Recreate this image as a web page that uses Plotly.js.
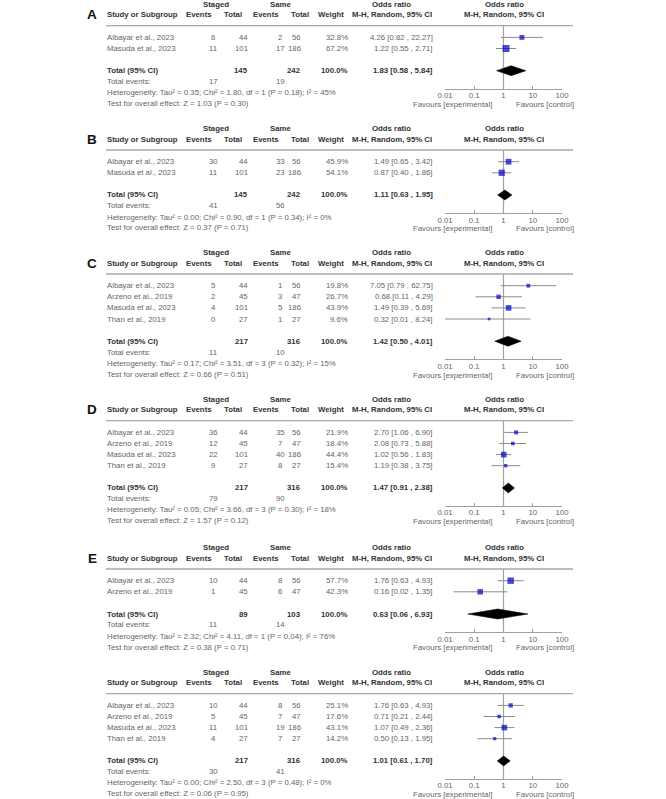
<!DOCTYPE html>
<html><head><meta charset="utf-8">
<script src="https://cdn.plot.ly/plotly-3.0.1.min.js"></script>
<style>html,body{margin:0;padding:0;background:#fff}</style>
</head><body><div id="chart" style="width:666px;height:799px"></div>
<script>
// ---------------- DATA ----------------
const panelLetters = ['A','B','C','D','E',''];

const studiesA = ['Albayar et al., 2023','Masuda et al., 2023'];
const stagedEvA = [6, 11], stagedNA = [44, 101], sameEvA = [2, 17], sameNA = [56, 186];
const weightA = [32.8, 67.2], orA = [4.26, 1.22], loA = [0.82, 0.55], hiA = [22.27, 2.71];

const studiesB = ['Albayar et al., 2023','Masuda et al., 2023'];
const stagedEvB = [30, 11], stagedNB = [44, 101], sameEvB = [33, 23], sameNB = [56, 186];
const weightB = [45.9, 54.1], orB = [1.49, 0.87], loB = [0.65, 0.40], hiB = [3.42, 1.86];

const studiesC = ['Albayar et al., 2023','Arzeno et al., 2019','Masuda et al., 2023','Than et al., 2019'];
const stagedEvC = [5, 2, 4, 0], stagedNC = [44, 45, 101, 27], sameEvC = [1, 3, 5, 1], sameNC = [56, 47, 186, 27];
const weightC = [19.8, 26.7, 43.9, 9.6], orC = [7.05, 0.68, 1.49, 0.32], loC = [0.79, 0.11, 0.39, 0.01], hiC = [62.75, 4.29, 5.69, 8.24];

const studiesD = ['Albayar et al., 2023','Arzeno et al., 2019','Masuda et al., 2023','Than et al., 2019'];
const stagedEvD = [36, 12, 22, 9], stagedND = [44, 45, 101, 27], sameEvD = [35, 7, 40, 8], sameND = [56, 47, 186, 27];
const weightD = [21.9, 18.4, 44.4, 15.4], orD = [2.70, 2.08, 1.02, 1.19], loD = [1.06, 0.73, 0.56, 0.38], hiD = [6.90, 5.88, 1.83, 3.75];

const studiesE = ['Albayar et al., 2023','Arzeno et al., 2019'];
const stagedEvE = [10, 1], stagedNE = [44, 45], sameEvE = [8, 6], sameNE = [56, 47];
const weightE = [57.7, 42.3], orE = [1.76, 0.16], loE = [0.63, 0.02], hiE = [4.93, 1.35];

const studiesF = ['Albayar et al., 2023','Arzeno et al., 2019','Masuda et al., 2023','Than et al., 2019'];
const stagedEvF = [10, 5, 11, 4], stagedNF = [44, 45, 101, 27], sameEvF = [8, 7, 19, 7], sameNF = [56, 47, 186, 27];
const weightF = [25.1, 17.6, 43.1, 14.2], orF = [1.76, 0.71, 1.07, 0.50], loF = [0.63, 0.21, 0.49, 0.13], hiF = [4.93, 2.44, 2.36, 1.95];

const totalOR = [1.83, 1.11, 1.42, 1.47, 0.63, 1.01];
const totalLo = [0.58, 0.63, 0.50, 0.91, 0.06, 0.61];
const totalHi = [5.84, 1.95, 4.01, 2.38, 6.93, 1.70];
const totalStagedN = [145, 145, 217, 217, 89, 217];
const totalSameN = [242, 242, 316, 316, 103, 316];
const totalWeight = [100.0, 100.0, 100.0, 100.0, 100.0, 100.0];
const totalStagedEv = [17, 41, 11, 79, 11, 30];
const totalSameEv = [19, 56, 10, 90, 14, 41];
const tau2 = ['0.35','0.00','0.17','0.05','2.32','0.00'];
const chi2 = ['1.80','0.90','3.51','3.66','4.11','2.50'];
const dfHet = [1, 1, 3, 3, 1, 3];
const pHet = ['0.18','0.34','0.32','0.30','0.04','0.48'];
const i2 = [45, 0, 15, 18, 76, 0];
const zVal = ['1.03','0.37','0.66','1.57','0.38','0.06'];
const pZ = ['0.30','0.71','0.51','0.12','0.71','0.95'];

const tickVals = [0.01, 0.1, 1, 10, 100];
const tickText = ['0.01','0.1','1','10','100'];

// ---------------- LAYOUT HELPERS ----------------
const W = 666, H = 799;
const FONT = 'Liberation Sans, Arial, sans-serif';
const FS = 7.8;
const C_TXT = '#666666', C_HEAD = '#333333';
const lineY = [25.7, 150, 274, 420.7, 569, 693.7];
const ROW0 = 11.7, ROW = 11.1, AXGAP = 18.2;
const COL = {study:106, sEv:213, sN:248.5, mEv:280, mN:302, wt:349, ci:434, or1:392, or2:504,
             hStaged:216, hSame:280, hsEv:199, hsN:232.7, hmEv:265.5, hmN:300, hWt:331, lineR:573,
             fav1:493, fav2:515, letter:92};
const AX_L = 445, AX_R = 562;

const panels = [
  {st:studiesA, sEv:stagedEvA, sN:stagedNA, mEv:sameEvA, mN:sameNA, w:weightA, or:orA, lo:loA, hi:hiA},
  {st:studiesB, sEv:stagedEvB, sN:stagedNB, mEv:sameEvB, mN:sameNB, w:weightB, or:orB, lo:loB, hi:hiB},
  {st:studiesC, sEv:stagedEvC, sN:stagedNC, mEv:sameEvC, mN:sameNC, w:weightC, or:orC, lo:loC, hi:hiC},
  {st:studiesD, sEv:stagedEvD, sN:stagedND, mEv:sameEvD, mN:sameND, w:weightD, or:orD, lo:loD, hi:hiD},
  {st:studiesE, sEv:stagedEvE, sN:stagedNE, mEv:sameEvE, mN:sameNE, w:weightE, or:orE, lo:loE, hi:hiE},
  {st:studiesF, sEv:stagedEvF, sN:stagedNF, mEv:sameEvF, mN:sameNF, w:weightF, or:orF, lo:loF, hi:hiF}
];

const fx = p => p / W;
const fy = p => 1 - p / H;
const ciTxt = (o, l, h) => o.toFixed(2) + ' [' + l.toFixed(2) + ' , ' + h.toFixed(2) + ']';

const annotations = [], shapes = [], traces = [];
const layout = {
  width: W, height: H, margin: {l:0, r:0, t:0, b:0},
  paper_bgcolor: '#fff', plot_bgcolor: 'rgba(0,0,0,0)',
  showlegend: false, font: {family: FONT, size: FS, color: C_TXT},
  annotations, shapes
};

function ann(text, x, y, xanchor, opts) {
  opts = opts || {};
  annotations.push({
    text: opts.bold ? '<b>' + text + '</b>' : text,
    x: fx(x), y: fy(y), xref: 'paper', yref: 'paper',
    xanchor: xanchor, yanchor: 'middle', showarrow: false, borderpad: 0,
    font: {family: FONT, size: opts.size || FS, color: opts.color || (opts.bold ? C_HEAD : C_TXT)}
  });
}

panels.forEach((P, p) => {
  const k = p + 1;
  const n = P.st.length;
  const L = lineY[p];
  const rowPx = r => L + ROW0 + ROW * r;
  const totR = n + 1;
  const axisPx = rowPx(totR) + AXGAP;
  const yTop = L - 21.6, yStudy = L - 10.9;

  // headers
  if (panelLetters[p]) ann(panelLetters[p], COL.letter, yStudy, 'center', {bold:true, size:13.5, color:'#111'});
  ann('Staged', COL.hStaged, yTop, 'center', {bold:true});
  ann('Same', COL.hSame, yTop, 'center', {bold:true});
  ann('Odds ratio', COL.or1, yTop, 'center', {bold:true});
  ann('Odds ratio', COL.or2, yTop, 'center', {bold:true});
  ann('Study or Subgroup', COL.study, yStudy, 'left', {bold:true});
  ann('Events', COL.hsEv, yStudy, 'center', {bold:true});
  ann('Total', COL.hsN, yStudy, 'center', {bold:true});
  ann('Events', COL.hmEv, yStudy, 'center', {bold:true});
  ann('Total', COL.hmN, yStudy, 'center', {bold:true});
  ann('Weight', COL.hWt, yStudy, 'center', {bold:true});
  ann('M-H, Random, 95% CI', COL.or1, yStudy, 'center', {bold:true});
  ann('M-H, Random, 95% CI', COL.or2, yStudy, 'center', {bold:true});
  shapes.push({type:'line', xref:'paper', yref:'paper', x0:fx(COL.study), x1:fx(COL.lineR), y0:fy(L), y1:fy(L),
               line:{color:'#a8a8a8', width:1.3}});

  // study rows
  for (let i = 0; i < n; i++) {
    const y = rowPx(i);
    ann(P.st[i], COL.study, y, 'left');
    ann(String(P.sEv[i]), COL.sEv, y, 'center');
    ann(String(P.sN[i]), COL.sN, y, 'right');
    ann(String(P.mEv[i]), COL.mEv, y, 'center');
    ann(String(P.mN[i]), COL.mN, y, 'right');
    ann(P.w[i].toFixed(1) + '%', COL.wt, y, 'right');
    ann(ciTxt(P.or[i], P.lo[i], P.hi[i]), COL.ci, y, 'right');
  }
  // total rows
  const yT = rowPx(totR);
  ann('Total (95% CI)', COL.study, yT, 'left', {bold:true});
  ann(String(totalStagedN[p]), COL.sN, yT, 'right', {bold:true});
  ann(String(totalSameN[p]), COL.mN, yT, 'right', {bold:true});
  ann(totalWeight[p].toFixed(1) + '%', COL.wt, yT, 'right', {bold:true});
  ann(ciTxt(totalOR[p], totalLo[p], totalHi[p]), COL.ci, yT, 'right', {bold:true});
  ann('Total events:', COL.study, yT + 10.9, 'left');
  ann(String(totalStagedEv[p]), COL.sEv, yT + 10.9, 'center');
  ann(String(totalSameEv[p]), COL.mEv, yT + 10.9, 'center');
  ann('Heterogeneity: Tau² = ' + tau2[p] + '; Chi² = ' + chi2[p] + ', df = ' + dfHet[p] +
      ' (P = ' + pHet[p] + '); I² = ' + i2[p] + '%', COL.study, yT + 22, 'left');
  ann('Test for overall effect: Z = ' + zVal[p] + ' (P = ' + pZ[p] + ')', COL.study, yT + 33, 'left');
  ann('Favours [experimental]', COL.fav1, axisPx + 15.6, 'right');
  ann('Favours [control]', COL.fav2, axisPx + 15.6, 'left');

  // axes
  const yRangeBottom = totR + AXGAP / ROW;
  const yRangeTop = -ROW0 / ROW;
  layout['xaxis' + k] = {
    type: 'log', range: [-2, 2], domain: [fx(AX_L), fx(AX_R)], anchor: 'y' + k,
    showline: true, linecolor: '#a0a0a0', linewidth: 1, showgrid: false, zeroline: false,
    ticks: 'inside', ticklen: 3, tickcolor: '#a0a0a0', tickwidth: 1,
    tickvals: tickVals, ticktext: tickText, tickfont: {family: FONT, size: FS, color: C_TXT},
    ticklabelstandoff: -1, fixedrange: true
  };
  layout['yaxis' + k] = {
    range: [yRangeBottom, yRangeTop], domain: [fy(axisPx), fy(L)], anchor: 'x' + k,
    visible: false, showgrid: false, zeroline: false, fixedrange: true
  };
  // reference line at OR = 1
  shapes.push({type:'line', xref:'x' + k, yref:'y' + k + ' domain', x0:1, x1:1, y0:0, y1:1,
               line:{color:'#a0a0a0', width:1.2}, layer:'below'});

  // study squares with CIs
  traces.push({
    type:'scatter', mode:'markers', xaxis:'x' + k, yaxis:'y' + k,
    x: P.or, y: P.or.map((_, i) => i),
    marker: {symbol:'square', color:'#0000CC', size: P.w.map(w => 0.85 * Math.sqrt(w)), line:{width:0}},
    error_x: {type:'data', symmetric:false, array: P.hi.map((h, i) => h - P.or[i]),
              arrayminus: P.lo.map((l, i) => P.or[i] - l), color:'#8a8a8a', thickness:1, width:0},
    cliponaxis:false, hoverinfo:'skip'
  });
  // pooled diamond
  const dh = 0.45;
  traces.push({
    type:'scatter', mode:'lines', xaxis:'x' + k, yaxis:'y' + k, fill:'toself', fillcolor:'#000',
    x: [totalLo[p], totalOR[p], totalHi[p], totalOR[p], totalLo[p]],
    y: [totR, totR - dh, totR, totR + dh, totR],
    line: {color:'#000', width:0.5}, hoverinfo:'skip'
  });
});

Plotly.newPlot('chart', traces, layout, {displayModeBar:false, staticPlot:true});
</script>
</body></html>
